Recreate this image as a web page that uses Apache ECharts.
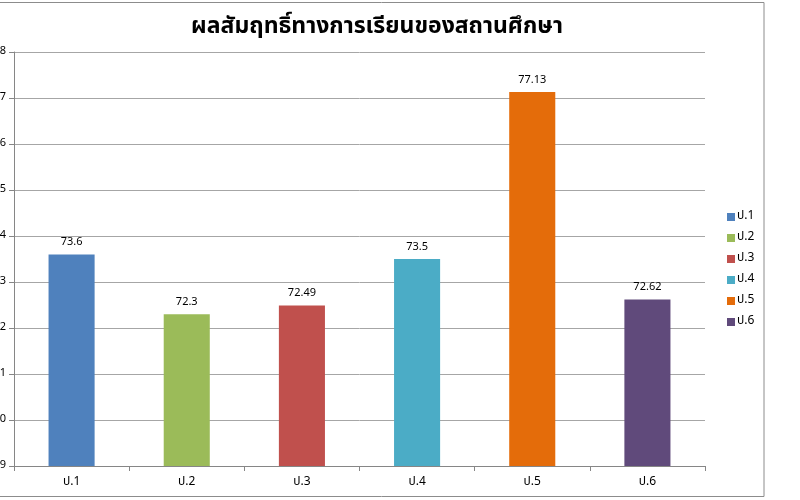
<!DOCTYPE html>
<html>
<head>
<meta charset="utf-8">
<script src="https://cdn.jsdelivr.net/npm/echarts@6/dist/echarts.min.js"></script>
<style>html,body{margin:0;padding:0;background:#fff;}#c{width:800px;height:500px;}</style>
</head>
<body>
<div id="c"></div>
<script>
const titleText = 'ผลสัมฤทธิ์ทางการเรียนของสถานศึกษา';
const categories = ['ป.1', 'ป.2', 'ป.3', 'ป.4', 'ป.5', 'ป.6'];
const values = [73.6, 72.3, 72.49, 73.5, 77.13, 72.62];
const colors = ['#4F81BD', '#9BBB59', '#C0504D', '#4BACC6', '#E46C0A', '#604A7B'];
const yMin = 69, yMax = 78, yStep = 1;

const FONT = "Tahoma, 'Noto Sans Thai', 'Noto Sans', 'DejaVu Sans', sans-serif";

const series = categories.map((name, i) => ({
  name: name,
  type: 'bar',
  barWidth: '40%',
  barGap: '-100%',
  itemStyle: { color: colors[i] },
  label: { show: true, position: 'top', color: '#000', fontSize: 11, fontFamily: FONT, distance: 6 },
  data: categories.map((c, j) => j === i ? values[i] : '-')
}));

const chart = echarts.init(document.getElementById('c'), null, { renderer: 'canvas' });
chart.setOption({
  animation: false,
  backgroundColor: '#fff',
  title: {
    text: titleText,
    left: 372, textAlign: 'center', top: 12,
    textStyle: { fontSize: 23, fontWeight: 'bold', color: '#000', fontFamily: FONT }
  },
  legend: {
    orient: 'vertical',
    left: 722, top: 206,
    itemWidth: 8, itemHeight: 8, itemGap: 9,
    icon: 'rect',
    textStyle: { fontSize: 12, color: '#000', fontFamily: FONT, padding: [0, 0, 0, -3] },
    data: categories
  },
  grid: { left: 14, right: 95, top: 52, bottom: 34, containLabel: false, outerBoundsMode: 'none' },
  xAxis: {
    type: 'category',
    data: categories,
    axisLine: { lineStyle: { color: '#868686' } },
    axisTick: { show: true, alignWithLabel: false, length: 5, lineStyle: { color: '#868686' } },
    axisLabel: { color: '#000', fontSize: 12, fontFamily: FONT, margin: 11 }
  },
  yAxis: {
    type: 'value',
    min: yMin, max: yMax, interval: yStep,
    axisLine: { show: true, lineStyle: { color: '#868686' } },
    axisTick: { show: true, length: 5, lineStyle: { color: '#868686' } },
    axisLabel: { color: '#000', fontSize: 11, fontFamily: FONT, margin: 8 },
    splitLine: { lineStyle: { color: '#a6a6a6' } }
  },
  graphic: [
    { type: 'rect', shape: { x: -5, y: 2.5, width: 769, height: 494 }, style: { fill: 'none', stroke: '#8c8c8c', lineWidth: 1 }, silent: true }
  ],
  series: series
});
</script>
</body>
</html>
